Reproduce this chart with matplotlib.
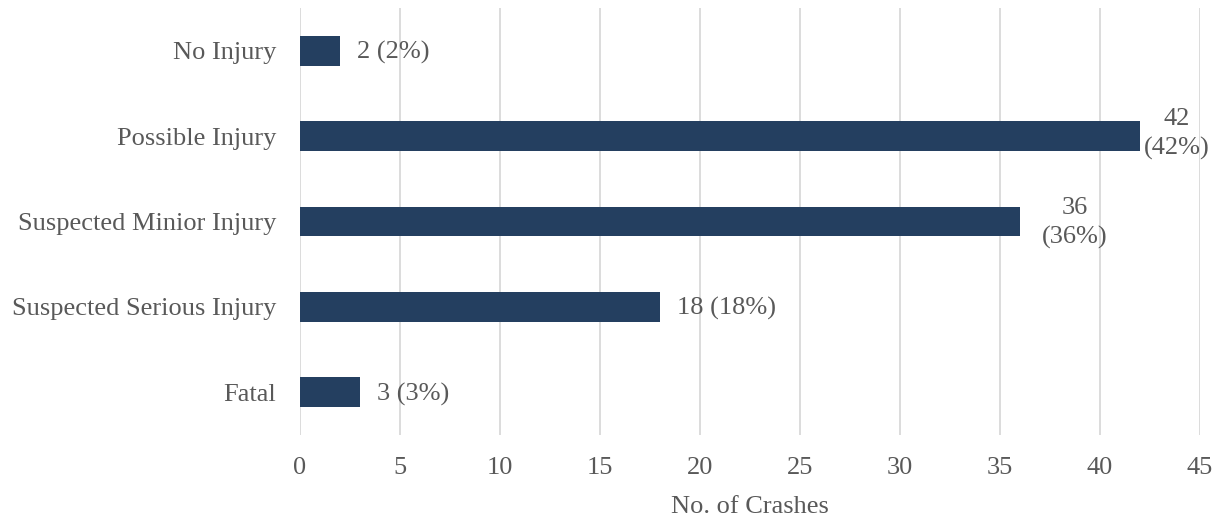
import matplotlib.pyplot as plt

categories = ["No Injury", "Possible Injury", "Suspected Minior Injury",
              "Suspected Serious Injury", "Fatal"]
crashes = [2, 42, 36, 18, 3]
percents = [2, 42, 36, 18, 3]
# two-line labels for the long bars, one line for the rest
labels = ["2 (2%)", "42\n(42%)", "36\n(36%)", "18 (18%)", "3 (3%)"]

plt.rcParams["font.family"] = ["Liberation Serif", "DejaVu Serif"]
txt = "#595959"
fs = 19

fig = plt.figure(figsize=(12.2, 5.2), dpi=100)
ax = fig.add_axes([0.2459, 0.1635, 0.7377, 0.8211])

y = list(range(len(categories)))
bars = ax.barh(y, crashes, height=0.35, color="#243F60", zorder=3)

# label placement tweaks (x offset in data units, y shift)
two_line_pos = {1: (1.85, -0.02), 2: (2.75, 0.02)}
for i, (v, lab) in enumerate(zip(crashes, labels)):
    if "\n" in lab:
        dx, dy = two_line_pos[i]
        ax.text(v + dx, i + dy, lab, ha="center", va="center", fontsize=fs,
                color=txt, linespacing=1.4)
    else:
        ax.text(v + 0.85, i + 0.02, lab, ha="left", va="center", fontsize=fs, color=txt)

ax.set_ylim(len(categories) - 0.5, -0.5)
ax.set_xlim(0, 45)
ax.set_xticks(range(0, 46, 5))
ax.set_yticks(y)
ax.set_yticklabels(categories)
ax.tick_params(axis="both", length=0, labelsize=fs, labelcolor=txt)
ax.tick_params(axis="x", pad=16)
ax.tick_params(axis="y", pad=17)
ax.grid(axis="x", color="#D9D9D9", linewidth=1.3, zorder=0)
for s in ax.spines.values():
    s.set_visible(False)
ax.set_xlabel("No. of Crashes", fontsize=fs, color=txt, labelpad=12)

fig.savefig("out.png", dpi=100)
